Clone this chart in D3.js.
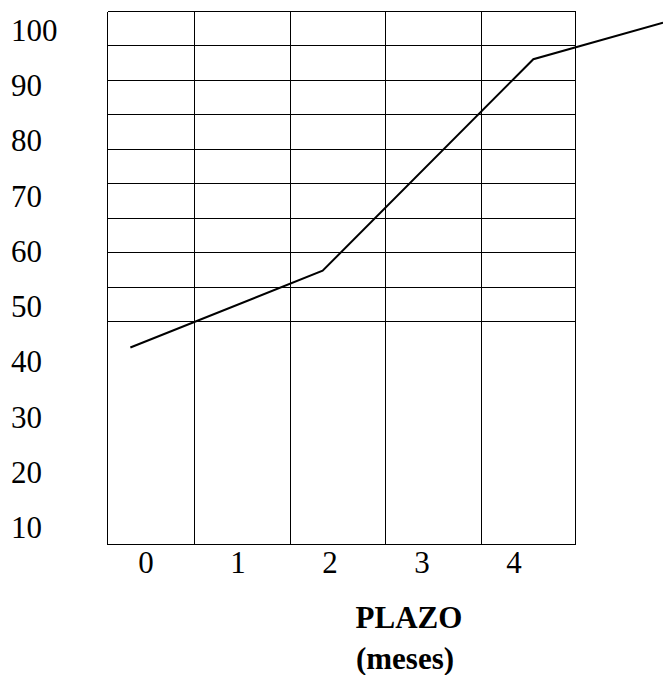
<!DOCTYPE html>
<html>
<head>
<meta charset="utf-8">
<script src="https://cdn.jsdelivr.net/npm/d3@7"></script>
<style>
  html, body { margin: 0; padding: 0; background: #fff; }
  svg { display: block; }
  text { font-family: "Liberation Serif", "Times New Roman", serif; fill: #000; }
</style>
</head>
<body>
<svg id="chart" width="663" height="675"></svg>
<script>
// ---- data ----
const xTickLabels = [0, 1, 2, 3, 4];
const yTickLabels = [10, 20, 30, 40, 50, 60, 70, 80, 90, 100];
// series (plazo in months, value)
const seriesX = [-0.17, 1.92, 4.21, 5.62];
const seriesY = [42.6, 56.5, 94.8, 101.4];
// grid lines (in data units)
const gridX = [-0.424, 0.527, 1.565, 2.60, 3.64, 4.66];
const gridY = [103.53, 97.37, 91.04, 84.88, 78.54, 72.38, 66.05, 59.89, 53.55, 47.40, 7.01];
const xTitle = ["PLAZO", "(meses)"];

// ---- chart ----
const svg = d3.select("#chart");
const x = d3.scaleLinear().domain([0, 4]).range([146, 514]);
const y = d3.scaleLinear().domain([10, 100]).range([527.5, 30.5]);

const snap = v => Math.round(v) + 0.5;
const x0 = x(d3.min(gridX)), x1 = x(d3.max(gridX));
const y0 = y(d3.max(gridY)), y1 = y(d3.min(gridY));

// horizontal grid
svg.append("g").selectAll("line").data(gridY).join("line")
  .attr("x1", snap(x0)).attr("x2", snap(x1))
  .attr("y1", d => snap(y(d))).attr("y2", d => snap(y(d)))
  .attr("stroke", "#000").attr("stroke-width", 1).attr("shape-rendering", "crispEdges");

// vertical grid
svg.append("g").selectAll("line").data(gridX).join("line")
  .attr("x1", d => snap(x(d))).attr("x2", d => snap(x(d)))
  .attr("y1", snap(y0)).attr("y2", snap(y1))
  .attr("stroke", "#000").attr("stroke-width", 1).attr("shape-rendering", "crispEdges");

// y tick labels
svg.append("g").selectAll("text").data(yTickLabels).join("text")
  .attr("x", 11).attr("y", d => y(d)).attr("dy", "0.34em")
  .attr("font-size", 31).attr("text-anchor", "start")
  .text(d => d);

// x tick labels
svg.append("g").selectAll("text").data(xTickLabels).join("text")
  .attr("x", d => x(d)).attr("y", 573)
  .attr("font-size", 31).attr("text-anchor", "middle")
  .text(d => d);

// x title
svg.append("text").attr("x", 409).attr("y", 628)
  .attr("font-size", 31).attr("font-weight", "bold").attr("text-anchor", "middle")
  .text(xTitle[0]);
svg.append("text").attr("x", 405).attr("y", 669)
  .attr("font-size", 31).attr("font-weight", "bold").attr("text-anchor", "middle")
  .text(xTitle[1]);

// series line
const pts = seriesX.map((v, i) => [v, seriesY[i]]);
svg.append("path")
  .attr("d", d3.line().x(d => x(d[0])).y(d => y(d[1]))(pts))
  .attr("fill", "none").attr("stroke", "#000").attr("stroke-width", 2)
  .attr("stroke-linejoin", "miter");
</script>
</body>
</html>
